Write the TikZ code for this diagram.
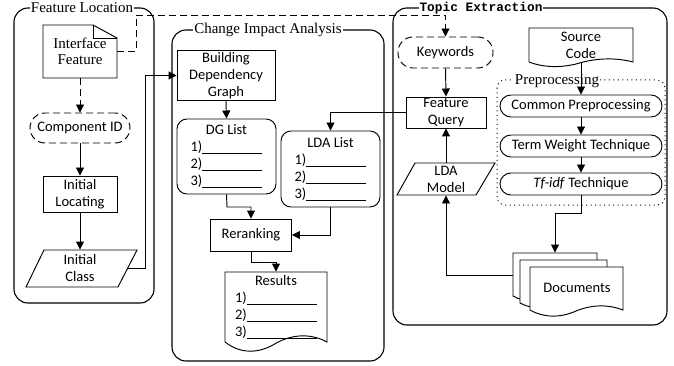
\documentclass[tikz,border=0pt]{standalone}
\usepackage{fontspec}
\setmainfont{Carlito}
\newfontfamily\serifttl{Liberation Serif}
\newfontfamily\monottl{Liberation Mono}
\usetikzlibrary{arrows.meta,calc}
\newcommand{\mydoc}[6][]{%
  \draw[line width=0.95pt,#1] (#2,#4) -- (#2,#5)
    .. controls ({#2+0.15*(#3-#2)},{#5+#6}) and ({#2+0.33*(#3-#2)},{#5+#6}) .. ({0.5*(#2+#3)},{#5+0.1*#6})
    .. controls ({#2+0.67*(#3-#2)},{#5-0.7*#6}) and ({#2+0.85*(#3-#2)},{#5-0.7*#6}) .. (#3,#5)
    -- (#3,#4) -- cycle;}
\newcommand{\blank}[1]{\rule[-2pt]{#1}{0.7pt}}
\tikzset{
  base/.style={font=\fontsize{14.5}{17}\selectfont, align=center, inner sep=0pt, line width=0.95pt},
  boxn/.style={base, draw},
  stadium/.style={base, draw, rounded corners=11pt, minimum width=162pt, minimum height=22pt},
  dstadium/.style={base, draw, dash pattern=on 7pt off 4pt, rounded corners=15pt},
  listbox/.style={base, draw, rounded corners=10pt, minimum width=99pt, minimum height=76pt},
  arr/.style={line width=0.95pt, -{Triangle[length=8pt,width=8pt]}},
  dasharr/.style={arr, dash pattern=on 7pt off 4pt},
  cont/.style={draw, line width=1.1pt, rounded corners=14pt},
  ttl/.style={fill=white, inner sep=1pt, font=\serifttl\fontsize{15}{17}\selectfont},
}
\begin{document}
\begin{tikzpicture}[x=1pt,y=-1pt]
\useasboundingbox (0,0) rectangle (674,366);

% ---------- containers ----------
\draw[cont] (14,8) rectangle (154,303);
\node[ttl] (tfl) at (82,8) {Feature Location};
\draw[cont] (172,30) rectangle (384,361);
\node[ttl] (tcia) at (268,30) {Change Impact Analysis};
\draw[cont] (393,8) rectangle (667,325);
\node[ttl, font=\monottl\bfseries\fontsize{12.8}{15}\selectfont] (tte) at (481,8) {Topic Extraction};
\draw[line width=1pt, dash pattern=on 1pt off 3.5pt, rounded corners=8pt] (497,80) rectangle (665,205);
\node[ttl] (tpre) at (557,81) {Preprocessing};

% ---------- Feature Location ----------
\draw[line width=0.95pt] (43,25) -- (93,25) -- (117,38) -- (117,78) -- (43,78) -- cycle;
\draw[line width=0.95pt] (93,25) -- (93,38) -- (117,38);
\node[base, font=\serifttl\fontsize{15}{16}\selectfont, minimum width=74pt, minimum height=53pt] (intf) at (80,51.5) {Interface\\Feature};
\node[dstadium, minimum width=100pt, minimum height=30pt] (comp) at (80,128) {Component ID};
\node[boxn, minimum width=74pt, minimum height=36pt] (initloc) at (80,194) {Initial\\Locating};
\draw[line width=0.95pt] (44,250) -- (137,250) -- (118,287) -- (26,287) -- cycle;
\node[base, minimum width=92pt, minimum height=37pt] (initcls) at (80,268.5) {Initial\\Class};
\coordinate (icr) at (128,268);

% ---------- Change Impact Analysis ----------
\node[boxn, minimum width=98pt, minimum height=50pt] (bdg) at (226,75.5) {Building\\Dependency\\Graph};
\node[listbox, minimum height=75pt] (dg) at (226.5,156.5) {DG List\\1)\blank{60pt}\\2)\blank{60pt}\\3)\blank{60pt}};
\node[listbox] (lda) at (330.5,169) {LDA List\\1)\blank{60pt}\\2)\blank{60pt}\\3)\blank{60pt}};
\node[boxn, minimum width=81pt, minimum height=32pt] (rerank) at (251,235) {Reranking};
\mydoc{225}{327}{272}{342}{12}
\node[base, minimum width=102pt, minimum height=70pt] (results) at (276,307) {Results\\1)\blank{70pt}\\2)\blank{70pt}\\3)\blank{70pt}};

% ---------- Topic Extraction ----------
\node[dstadium, minimum width=95pt, minimum height=31pt] (kw) at (445.5,52.5) {Keywords};
\node[boxn, minimum width=80pt, minimum height=31pt] (fq) at (446,112.5) {Feature\\Query};
\draw[line width=0.95pt] (415,163) -- (495,163) -- (476,195) -- (397,195) -- cycle;
\node[base, minimum width=80pt, minimum height=32pt] (ldam) at (446,179) {LDA\\Model};
\mydoc{529}{633}{28}{62}{6}
\node[base, minimum width=104pt, minimum height=34pt] (src) at (581,45) {Source\\Code};
\node[stadium] (cp) at (581,106) {Common Preprocessing};
\node[stadium] (tw) at (581,146) {Term Weight Technique};
\node[stadium] (tf) at (581,184) {\textit{Tf-idf} Technique};
\mydoc[fill=white]{513}{597}{253}{296}{7}
\mydoc[fill=white]{520}{607}{260}{303}{7}
\mydoc[fill=white]{530}{623}{267}{310}{8}
\node[base, minimum width=84pt, minimum height=44pt] (docsback) at (555,275) {};
\node[base] (docs) at (577,288) {Documents};

% ---------- connectors ----------
\draw[dasharr] (intf.south) -- (comp.north);
\draw[arr] (comp.south) -- (initloc.north);
\draw[arr] (initloc.south) -- (initcls.north);
\draw[arr] (icr) -- (145,268) |- (bdg.west);
\draw[dasharr] (intf.east) -- (136,51.5) -- (136,15) -| (kw.north);
\draw[arr] (kw.south) -- (fq.north);
\draw[arr] (ldam.north) -- (fq.south);
\draw[arr] (fq.west) -| (lda.north);
\draw[arr] (bdg.south) -- (dg.north);
\draw[arr] (dg.south) -- (227,207) -| (rerank.north);
\draw[arr] (lda.south) |- (rerank.east);
\draw[arr] (rerank.south) -- (251,262) -| (results.north);
\draw[arr] (src.south) -- (cp.north);
\draw[arr] (cp.south) -- (tw.north);
\draw[arr] (tw.south) -- (tf.north);
\draw[arr] (tf.south) -- (581,213) -| (docsback.north);
\draw[arr] (docsback.west) -| (ldam.south);
\end{tikzpicture}
\end{document}
